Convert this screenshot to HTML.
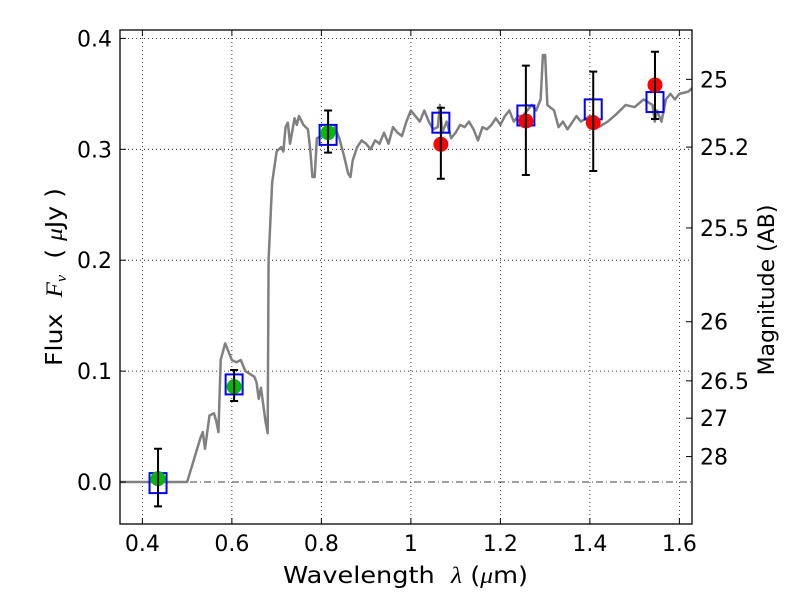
<!DOCTYPE html>
<html><head><meta charset="utf-8"><style>
body{margin:0;background:#fff}
svg text{font-family:"DejaVu Sans","Liberation Sans",sans-serif;fill:#000}
</style></head><body>
<svg id="chart" width="800" height="600" viewBox="0 0 800 600">
<g id="grid"></g>
<g id="spec"></g>
<g id="marks"></g>
<g id="axes"></g>
<text x="283" y="583" font-size="23" textLength="245" lengthAdjust="spacingAndGlyphs" xml:space="preserve">Wavelength  <tspan font-family="Liberation Serif" font-style="italic">λ</tspan> (<tspan font-family="Liberation Serif" font-style="italic">μ</tspan>m)</text>
<text transform="translate(62,366) rotate(-90)" font-size="23" textLength="178" lengthAdjust="spacingAndGlyphs" xml:space="preserve">Flux  <tspan font-family="Liberation Serif" font-style="italic">F<tspan font-size="15" dy="4">ν</tspan></tspan><tspan dy="-4">  ( </tspan><tspan font-family="Liberation Serif" font-style="italic">μ</tspan>Jy )</text>
<text transform="translate(774,290) rotate(-90)" font-size="22" text-anchor="middle">Magnitude (AB)</text>
</svg>
<script>
const xTicks=[0.4,0.6,0.8,1.0,1.2,1.4,1.6];
const xTickLabels=["0.4","0.6","0.8","1","1.2","1.4","1.6"];
const yTicks=[0,0.1,0.2,0.3,0.4];
const yTickLabels=["0.0","0.1","0.2","0.3","0.4"];
const magTicks=[25,25.2,25.5,26,26.5,27,28];
const magTickLabels=["25","25.2","25.5","26","26.5","27","28"];
const specWl=[0.35,0.50,0.53,0.535,0.54,0.55,0.56,0.565,0.57,0.575,0.585,0.59,0.6,0.61,0.62,0.63,0.65,0.655,0.66,0.665,0.67,0.675,0.68,0.682,0.69,0.70,0.71,0.715,0.72,0.725,0.73,0.74,0.745,0.75,0.76,0.77,0.775,0.78,0.785,0.79,0.80,0.81,0.82,0.83,0.84,0.85,0.86,0.865,0.87,0.88,0.89,0.9,0.91,0.92,0.93,0.94,0.95,0.96,0.97,0.98,0.99,1.0,1.01,1.02,1.03,1.04,1.05,1.06,1.065,1.07,1.08,1.09,1.10,1.11,1.12,1.13,1.14,1.15,1.16,1.17,1.18,1.19,1.20,1.21,1.22,1.23,1.24,1.25,1.27,1.28,1.29,1.295,1.30,1.305,1.32,1.33,1.34,1.35,1.37,1.38,1.40,1.42,1.44,1.46,1.48,1.50,1.52,1.54,1.545,1.55,1.56,1.57,1.58,1.59,1.60,1.62,1.628];
const specFlux=[0,0,0.04,0.045,0.03,0.06,0.062,0.055,0.045,0.11,0.125,0.12,0.11,0.108,0.11,0.1,0.095,0.09,0.075,0.085,0.07,0.055,0.044,0.2,0.27,0.298,0.302,0.298,0.32,0.324,0.305,0.328,0.322,0.33,0.322,0.318,0.30,0.275,0.275,0.31,0.312,0.31,0.315,0.32,0.31,0.295,0.278,0.275,0.29,0.302,0.308,0.305,0.30,0.308,0.305,0.315,0.305,0.32,0.315,0.312,0.325,0.335,0.33,0.325,0.335,0.325,0.318,0.32,0.34,0.315,0.325,0.31,0.315,0.322,0.32,0.325,0.318,0.308,0.32,0.318,0.322,0.328,0.322,0.33,0.335,0.325,0.33,0.33,0.34,0.335,0.345,0.385,0.385,0.34,0.335,0.32,0.325,0.318,0.33,0.325,0.33,0.32,0.325,0.332,0.34,0.338,0.345,0.34,0.325,0.335,0.325,0.345,0.35,0.345,0.35,0.352,0.355];
const bandWl=[0.435,0.605,0.815,1.067,1.257,1.4075,1.5455];
const obsFlux=[0.003,0.086,0.315,0.3045,0.3255,0.324,0.358];
const errLo=[0.025,0.013,0.018,0.031,0.0487,0.0436,0.0307];
const errHi=[0.027,0.015,0.020,0.033,0.0499,0.046,0.030];
const modelFlux=[-0.001,0.088,0.313,0.324,0.3305,0.336,0.3426];
const detectColor=["#00bb00","#00bb00","#00bb00","#ff0000","#ff0000","#ff0000","#ff0000"];

const L=120,R=692,T=30,B=524;
const x=v=>L+(v-0.35)*447.5;
const y=v=>482-v*1109;
const NS="http://www.w3.org/2000/svg";
function mk(tag,attrs,parent){const e=document.createElementNS(NS,tag);for(const k in attrs)e.setAttribute(k,attrs[k]);parent.appendChild(e);return e;}
const grid=document.getElementById('grid'),axes=document.getElementById('axes'),spec=document.getElementById('spec'),marks=document.getElementById('marks');

xTicks.forEach((t,i)=>{
  const g=mk('line',{x1:x(t),x2:x(t),y1:T,y2:B,stroke:'#000','stroke-width':0.8,'stroke-dasharray':'1,3'},grid);
  
  
  mk('line',{x1:x(t),x2:x(t),y1:B,y2:B-6,stroke:'#000'},axes);
  mk('line',{x1:x(t),x2:x(t),y1:T,y2:T+6,stroke:'#000'},axes);
  const tx=mk('text',{x:x(t),y:B+27,'font-size':22,'text-anchor':'middle'},axes);
  tx.textContent=xTickLabels[i];
  
  
});
yTicks.forEach((t,i)=>{
  if(t!==0){
    const g=mk('line',{x1:L,x2:R,y1:y(t),y2:y(t),stroke:'#000','stroke-width':0.8,'stroke-dasharray':'1,3'},grid);
    
    
  }
  mk('line',{x1:L,x2:L+6,y1:y(t),y2:y(t),stroke:'#000'},axes);
  const tx=mk('text',{x:L-8,y:y(t)+8,'font-size':22,'text-anchor':'end'},axes);
  tx.textContent=yTickLabels[i];
  
  
});
const zl=mk('line',{x1:L,x2:R,y1:y(0),y2:y(0),stroke:'#000','stroke-width':0.8,'stroke-dasharray':'7,3,1,3'},grid);


magTicks.forEach((m,i)=>{
  const f=Math.pow(10,(23.9-m)/2.5);
  mk('line',{x1:R,x2:R-6,y1:y(f),y2:y(f),stroke:'#000'},axes);
  const tx=mk('text',{x:R+8,y:y(f)+8,'font-size':22},axes);
  tx.textContent=magTickLabels[i];
  
  
});
const fr=mk('rect',{x:L,y:T,width:R-L,height:B-T,fill:'none',stroke:'#000','stroke-width':1.3},axes);



const pl=mk('polyline',{points:specWl.map((w,i)=>x(w)+','+y(specFlux[i])).join(' '),fill:'none',stroke:'#808080','stroke-width':2.5,'stroke-linejoin':'round'},spec);



bandWl.forEach((w,i)=>{
  const bx=mk('rect',{x:x(w)-8.5,y:y(modelFlux[i])-10,width:17,height:20,fill:'none',stroke:'#0000ff','stroke-width':2},marks);
  
  
  const c=mk('circle',{cx:x(w),cy:y(obsFlux[i]),r:7.5,fill:detectColor[i]},marks);
  
  
  const yt=y(obsFlux[i]+errHi[i]),yb=y(obsFlux[i]-errLo[i]);
  const eb=mk('path',{d:`M${x(w)},${yt}V${yb}M${x(w)-4},${yt}H${x(w)+4}M${x(w)-4},${yb}H${x(w)+4}`,stroke:'#000','stroke-width':2,fill:'none'},marks);
  
  
});
</script>
</body></html>
